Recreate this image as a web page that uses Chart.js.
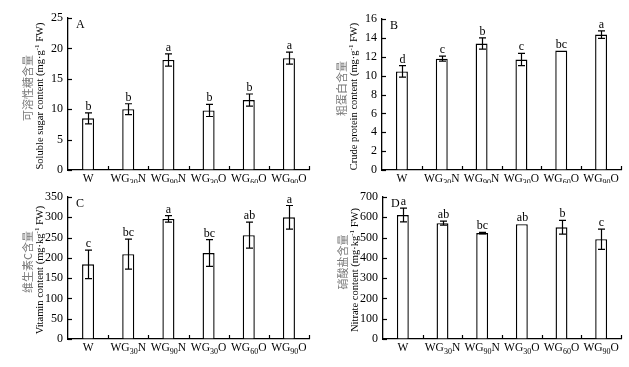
<!DOCTYPE html>
<html>
<head>
<meta charset="utf-8">
<script src="https://cdn.jsdelivr.net/npm/chart.js@4"></script>
<style>
  html,body{margin:0;padding:0;background:#fff;}
  #wrap{position:relative;width:629px;height:367px;overflow:hidden;}
  canvas{position:absolute;}
</style>
</head>
<body>
<div id="wrap">
  <canvas id="cA" width="314" height="183" style="left:0;top:0"></canvas>
  <canvas id="cB" width="315" height="183" style="left:314px;top:0"></canvas>
  <canvas id="cC" width="314" height="184" style="left:0;top:183px"></canvas>
  <canvas id="cD" width="315" height="184" style="left:314px;top:183px"></canvas>
</div>
<script>
// treatments
var categories = ['W','WG30N','WG90N','WG30O','WG60O','WG90O'];

// A: soluble sugar (mg/g FW)
var sugar    = [8.5, 10.0, 18.1, 9.8, 11.5, 18.4];
var sugarErr = [0.9, 0.9, 1.0, 1.0, 1.0, 1.0];
var sugarSig = ['b','b','a','b','b','a'];
var sugarTicks = [0,5,10,15,20,25];

// B: crude protein (mg/g FW)
var protein    = [10.45, 11.8, 13.4, 11.7, 12.65, 14.35];
var proteinErr = [0.6, 0.27, 0.6, 0.65, 0, 0.4];
var proteinSig = ['d','c','b','c','bc','a'];
var proteinTicks = [0,2,4,6,8,10,12,14,16];

// C: vitamin C (mg/kg FW)
var vitc    = [184, 209, 296, 212, 256, 300];
var vitcErr = [35, 37, 8, 33, 32, 29];
var vitcSig = ['c','bc','a','bc','ab','a'];
var vitcTicks = [0,50,100,150,200,250,300,350];

// D: nitrate (mg/kg FW)
var nitrate    = [611, 571, 522, 566, 551, 492];
var nitrateErr = [34, 10, 4, 0, 34, 50];
var nitrateSig = ['a','ab','bc','ab','b','c'];
var nitrateTicks = [0,100,200,300,400,500,600,700];

var SERIF = "'Liberation Serif','Times New Roman',serif";
var CJK = "'Noto Sans CJK SC','Noto Sans CJK JP',sans-serif";

function drawRich(ctx, parts, x, y, size){
  var w = 0;
  parts.forEach(function(p){
    ctx.font = (p.s ? Math.round(size*0.68) : size) + 'px ' + SERIF;
    p.w = ctx.measureText(p.t).width; w += p.w;
  });
  var cx = x - w/2;
  ctx.textAlign = 'left';
  ctx.textBaseline = 'alphabetic';
  parts.forEach(function(p){
    var dy = p.s === 'sub' ? size*0.22 : (p.s === 'sup' ? -size*0.38 : 0);
    ctx.font = (p.s ? Math.round(size*0.68) : size) + 'px ' + SERIF;
    ctx.fillText(p.t, cx, y + dy);
    cx += p.w;
  });
}

function labelParts(c){
  var m = /^(WG)(\d+)(\w)$/.exec(c);
  if(!m) return [{t:c}];
  return [{t:m[1]},{t:m[2],s:'sub'},{t:m[3]}];
}

var decor = {
  id:'decor',
  afterDatasetsDraw:function(chart){
    var o = chart.options.plugins.decor;
    var ctx = chart.ctx, a = chart.chartArea;
    var xs = chart.scales.x, ys = chart.scales.y;
    ctx.save();
    ctx.strokeStyle = '#000'; ctx.fillStyle = '#000'; ctx.lineWidth = 1.2;

    // inward ticks on y
    ys.ticks.forEach(function(t){
      var py = Math.round(ys.getPixelForValue(t.value)) + 0.5;
      ctx.beginPath(); ctx.moveTo(a.left, py); ctx.lineTo(a.left + 4, py); ctx.stroke();
    });
    // inward ticks on x at category boundaries
    for(var k = 1; k <= categories.length; k++){
      var bx = Math.round(xs.getPixelForValue(k - 0.5)) + 0.5;
      ctx.beginPath(); ctx.moveTo(bx, a.bottom); ctx.lineTo(bx, a.bottom - 4); ctx.stroke();
    }

    // error bars and letters
    o.values.forEach(function(v, i){
      var e = o.errs[i];
      var px = Math.round(xs.getPixelForValue(i)) + 0.5;
      var yt = ys.getPixelForValue(v + e), yb = ys.getPixelForValue(v - e);
      if(e > 0){
        ctx.lineWidth = 1.2;
        ctx.beginPath();
        ctx.moveTo(px, yt); ctx.lineTo(px, yb);
        ctx.moveTo(px - 3.5, yt); ctx.lineTo(px + 3.5, yt);
        ctx.moveTo(px - 3.5, yb); ctx.lineTo(px + 3.5, yb);
        ctx.stroke();
      }
      ctx.font = '12px ' + SERIF;
      ctx.textAlign = 'center'; ctx.textBaseline = 'alphabetic';
      ctx.fillText(o.sig[i], px, yt - 3);
    });

    // category labels with subscripts
    categories.forEach(function(c, i){
      drawRich(ctx, labelParts(c), xs.getPixelForValue(i), a.bottom + 12, 11.5);
    });

    // panel letter
    ctx.font = '12px ' + SERIF;
    ctx.textAlign = 'left'; ctx.textBaseline = 'top';
    ctx.fillText(o.panel, a.left + 8, a.top + 1);

    // y titles
    var mid = (a.top + a.bottom) / 2;
    ctx.save();
    ctx.translate(a.left - 40, mid - 6);
    ctx.rotate(-Math.PI/2);
    ctx.fillStyle = '#7a7a7a';
    ctx.font = '11px ' + CJK;
    ctx.textAlign = 'center'; ctx.textBaseline = 'middle';
    ctx.fillText(o.titleCn, 0, 0);
    ctx.restore();

    ctx.save();
    ctx.translate(a.left - 29, mid + 2);
    ctx.rotate(-Math.PI/2);
    ctx.fillStyle = '#000';
    drawRich(ctx, o.titleEn, 0, 4, 10.5);
    ctx.restore();

    ctx.restore();
  }
};

function makePanel(id, cfg){
  var el = document.getElementById(id);
  new Chart(el.getContext('2d'), {
    type:'bar',
    data:{labels:categories, datasets:[{
      data:cfg.values, backgroundColor:'#fff', borderColor:'#000', borderWidth:1.4,
      barPercentage:0.3, categoryPercentage:1
    }]},
    plugins:[decor],
    options:{
      responsive:false, animation:false, devicePixelRatio:1,
      layout:{padding:{left:0, right:cfg.padRight, top:cfg.padTop, bottom:0}},
      plugins:{legend:{display:false}, tooltip:{enabled:false},
        decor:{values:cfg.values, errs:cfg.errs, sig:cfg.sig, panel:cfg.panel, titleCn:cfg.titleCn, titleEn:cfg.titleEn}},
      scales:{
        x:{
          offset:true,
          grid:{display:true, drawOnChartArea:false, drawTicks:false},
          border:{display:true, color:'#000', width:1.3},
          ticks:{display:false},
          afterFit:function(s){ s.height = cfg.xHeight; }
        },
        y:{
          min:cfg.ticks[0], max:cfg.ticks[cfg.ticks.length-1],
          afterBuildTicks:function(s){ s.ticks = cfg.ticks.map(function(v){ return {value:v}; }); },
          grid:{display:true, drawOnChartArea:false, drawTicks:false},
          border:{display:true, color:'#000', width:1.3},
          ticks:{color:'#000', padding:5, font:{family:SERIF, size:12}},
          afterFit:function(s){ s.width = cfg.left; }
        }
      }
    }
  });
}

makePanel('cA', {values:sugar, errs:sugarErr, sig:sugarSig, ticks:sugarTicks, panel:'A',
  left:68, padRight:5, padTop:18, xHeight:13,
  titleCn:'可溶性糖含量',
  titleEn:[{t:'Soluble sugar content (mg·g'},{t:'-1',s:'sup'},{t:' FW)'}]});
makePanel('cB', {values:protein, errs:proteinErr, sig:proteinSig, ticks:proteinTicks, panel:'B',
  left:68, padRight:8, padTop:19, xHeight:13,
  titleCn:'粗蛋白含量',
  titleEn:[{t:'Crude protein content (mg·g'},{t:'-1',s:'sup'},{t:' FW)'}]});
makePanel('cC', {values:vitc, errs:vitcErr, sig:vitcSig, ticks:vitcTicks, panel:'C',
  left:68, padRight:5, padTop:14, xHeight:28,
  titleCn:'维生素C含量',
  titleEn:[{t:'Vitamin content (mg·kg'},{t:'-1',s:'sup'},{t:' FW)'}]});
makePanel('cD', {values:nitrate, errs:nitrateErr, sig:nitrateSig, ticks:nitrateTicks, panel:'D',
  left:69, padRight:8, padTop:14, xHeight:28,
  titleCn:'硝酸盐含量',
  titleEn:[{t:'Nitrate content (mg·kg'},{t:'-1',s:'sup'},{t:' FW)'}]});
</script>
</body>
</html>
